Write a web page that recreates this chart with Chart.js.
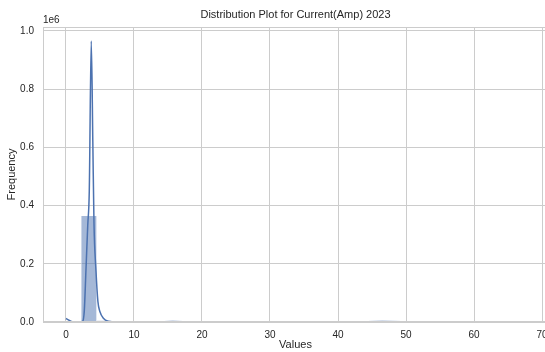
<!DOCTYPE html>
<html><head><meta charset="utf-8">
<script src="https://cdn.jsdelivr.net/npm/chart.js@4.4.1/dist/chart.umd.min.js"></script>
<style>
html,body{margin:0;padding:0;overflow:hidden;background:#fff;width:545px;height:352px}
#wrap{position:absolute;left:0;top:0;width:560px;height:352px}
</style></head>
<body><div id="wrap"><canvas id="c"></canvas></div>
<script>
const titleText = 'Distribution Plot for Current(Amp) 2023';
const xTitle = 'Values';
const yTitle = 'Frequency';
const offsetText = '1e6';

// Histogram bins (centers) and counts
const binCenters = [1.125, 3.375, 5.625, 7.875, 10.125, 12.375, 14.625, 16.875, 19.125, 21.375,
  23.625, 25.875, 28.125, 30.375, 32.625, 34.875, 37.125, 39.375, 41.625, 43.875,
  46.125, 48.375, 50.625, 52.875, 55.125, 57.375, 59.625, 61.875, 64.125, 66.375];
const binCounts = [1500, 365000, 5000, 900, 300, 150, 120, 400, 100, 60,
  40, 30, 30, 20, 20, 20, 20, 15, 15, 15,
  300, 20, 10, 10, 10, 10, 10, 10, 10, 50];

// KDE curve (scaled to counts)
const kdeX = [0, 0.3, 0.7, 1.2, 2.0, 2.45, 2.7, 2.94, 3.2, 3.43, 3.72, 3.95, 4.12, 4.41, 4.7, 5.0, 5.5, 6.2, 7.5, 12, 15.7, 20, 30, 40, 46.5, 55, 67.5];
const kdeY = [12000, 8000, 3000, 500, 0, 2000, 40000, 178000, 330000, 450000, 965000, 620000, 340000, 178000, 70000, 35000, 13000, 3000, 500, 0, 2000, 0, 0, 0, 2000, 0, 0];

const xTicks = [0, 10, 20, 30, 40, 50, 60, 70];
const xTickLabels = ['0', '10', '20', '30', '40', '50', '60', '70'];
const yTicks = [0, 200000, 400000, 600000, 800000, 1000000];
const yTickLabels = ['0.0', '0.2', '0.4', '0.6', '0.8', '1.0'];

const FONT = '"Liberation Sans", Arial, "DejaVu Sans", sans-serif';
const TXT = '#262626';
const GRID = '#cccccc';
const BLUE = '#4c72b0';

const spinePlugin = {
  id: 'spines',
  afterDatasetsDraw(chart) {
    const {ctx, chartArea: a} = chart;
    ctx.save();
    ctx.strokeStyle = GRID;
    ctx.lineWidth = 1;
    ctx.strokeRect(Math.round(a.left) + 0.5, Math.round(a.top) + 0.5,
      Math.round(a.right - a.left) - 1, Math.round(a.bottom - a.top) - 1);
    ctx.restore();
  },
  afterDraw(chart) {
    const {ctx, chartArea: a} = chart;
    ctx.save();
    ctx.fillStyle = TXT;
    ctx.font = '10px ' + FONT;
    ctx.textAlign = 'left';
    ctx.textBaseline = 'middle';
    ctx.fillText(offsetText, a.left, a.top - 7);
    ctx.restore();
  }
};

new Chart(document.getElementById('c'), {
  type: 'bar',
  data: {
    datasets: [
      {
        type: 'line',
        order: 0,
        data: kdeX.map((x, i) => ({x: x, y: kdeY[i]})),
        borderColor: BLUE,
        borderWidth: 1.5,
        pointRadius: 0,
        fill: false,
        cubicInterpolationMode: 'monotone'
      },
      {
        type: 'bar',
        order: 1,
        data: binCenters.map((x, i) => ({x: x, y: binCounts[i]})),
        backgroundColor: 'rgba(76,114,176,0.5)',
        borderColor: 'rgba(255,255,255,0.5)',
        borderWidth: 0.5,
        barPercentage: 1,
        categoryPercentage: 1
      }
    ]
  },
  options: {
    responsive: true,
    maintainAspectRatio: false,
    animation: false,
    layout: {padding: {left: 0, right: 12, top: 0, bottom: 0}},
    plugins: {
      legend: {display: false},
      tooltip: {enabled: false},
      title: {
        display: true,
        text: titleText,
        fullSize: false,
        color: TXT,
        font: {family: FONT, size: 11, weight: 'normal', lineHeight: 1.2},
        padding: {top: 8, bottom: 5.8}
      }
    },
    scales: {
      x: {
        type: 'linear',
        offset: false,
        min: -3.375,
        max: 70.875,
        afterFit(s) { s.height = 30; },
        afterBuildTicks(s) { s.ticks = xTicks.map(v => ({value: v})); },
        ticks: {
          includeBounds: false,
          stepSize: 10,
          padding: 7,
          color: TXT,
          font: {family: FONT, size: 10},
          maxRotation: 0,
          callback: (v) => { const i = xTicks.indexOf(v); return i >= 0 ? xTickLabels[i] : ''; }
        },
        grid: {color: GRID, lineWidth: 1, drawTicks: false, offset: false},
        border: {display: false},
        title: {display: true, text: xTitle, color: TXT, font: {family: FONT, size: 11, lineHeight: 1.2}, padding: {top: 0, bottom: 0}}
      },
      y: {
        type: 'linear',
        min: 0,
        max: 1013250,
        afterFit(s) { s.width = 43; },
        afterBuildTicks(s) { s.ticks = yTicks.map(v => ({value: v})); },
        ticks: {
          includeBounds: false,
          padding: 9,
          color: TXT,
          font: {family: FONT, size: 10},
          callback: (v) => { const i = yTicks.indexOf(v); return i >= 0 ? yTickLabels[i] : ''; }
        },
        grid: {color: GRID, lineWidth: 1, drawTicks: false},
        border: {display: false},
        title: {display: true, text: yTitle, color: TXT, font: {family: FONT, size: 11, lineHeight: 1.2}, padding: {top: 5, bottom: 0}}
      }
    }
  },
  plugins: [spinePlugin]
});
</script>
</body></html>
